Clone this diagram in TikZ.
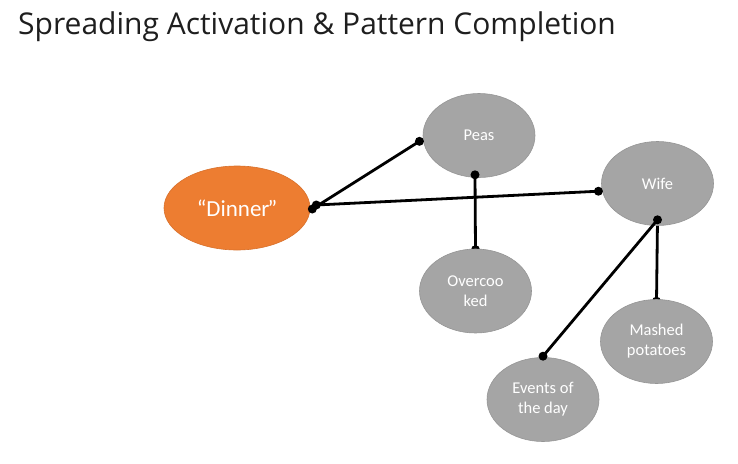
\documentclass[tikz,border=0pt]{standalone}
\usepackage{fontspec}
\setmainfont{Carlito}
\newfontfamily\titlefont{Open Sans}
\usetikzlibrary{shapes.geometric}
\pgfdeclarelayer{background}
\pgfsetlayers{background,main}
\definecolor{dinnerorange}{HTML}{ED7D31}
\definecolor{dinnerborder}{HTML}{D8702B}
\definecolor{nodegray}{HTML}{A5A5A5}
\definecolor{grayborder}{HTML}{959595}
\definecolor{titlegray}{HTML}{1E1E1E}
\tikzset{
  concept/.style={ellipse, draw=grayborder, line width=0.6pt, fill=nodegray,
    minimum width=112pt, minimum height=84pt, inner sep=0pt,
    text=white, align=center, font=\fontsize{16.5}{20}\selectfont},
  cue/.style={ellipse, draw=dinnerborder, line width=0.6pt, fill=dinnerorange,
    minimum width=146pt, minimum height=84pt, inner sep=0pt,
    text=white, font=\fontsize{23}{27}\selectfont},
  link/.style={line width=2.8pt, black, line cap=round},
  dotend/.style={fill=black, circle, inner sep=0pt, minimum size=9pt}
}
\begin{document}
\begin{tikzpicture}[x=1pt,y=-1pt]
\useasboundingbox (0,0) rectangle (738,463);
\node[anchor=base west, inner sep=0pt, text=titlegray, font=\titlefont\fontsize{30}{36}\selectfont] (title) at (18,34) {Spreading Activation \& Pattern Completion};

\node[cue] (dinner) at (237,208) {“Dinner\kern-2pt”};
\node[concept] (peas) at (479,135.5) {Peas};
\node[concept] (wife) at (657.5,183.5) {Wife};
\node[concept] (over) at (475.5,291) {Overcoo\\ked};
\node[concept] (mashed) at (656.5,341.5) {Mashed\\potatoes};
\node[concept] (events) at (543,399.5) {Events of\\the day};

% connectors
\coordinate (d1) at ([xshift=2pt,yshift=-1pt]dinner.east);
\coordinate (d2) at ([xshift=6pt,yshift=3pt]dinner.east);
\coordinate (p1) at ([xshift=-4pt,yshift=1pt]peas.187);
\coordinate (p2) at ([xshift=-4pt,yshift=3pt]peas.south);
\coordinate (w1) at ([xshift=-4pt,yshift=1pt]wife.189);
\coordinate (w2) at ([yshift=6pt]wife.south);
\coordinate (o1) at ([yshift=-1pt]over.north);
\coordinate (m1) at ([yshift=-2pt]mashed.north);
\coordinate (e1) at ([yshift=1pt]events.north);

\begin{pgfonlayer}{background}
\draw[link] (p2) -- (o1);
\draw[link] (w2) -- (m1);
\node[dotend] (do1) at (o1) {};
\node[dotend] (dm1) at (m1) {};
\end{pgfonlayer}

\draw[link] (d1) -- (p1);
\draw[link] (d2) -- (w1);
\draw[link] (w2) -- (e1);
\node[dotend] (dd1) at (d1) {};
\node[dotend] (dd2) at (d2) {};
\node[dotend] (dp1) at (p1) {};
\node[dotend] (dw1) at (w1) {};
\node[dotend] (dw2) at (w2) {};
\node[dotend] (de1) at (e1) {};
\node[dotend] (dp2) at (p2) {};
\end{tikzpicture}
\end{document}
